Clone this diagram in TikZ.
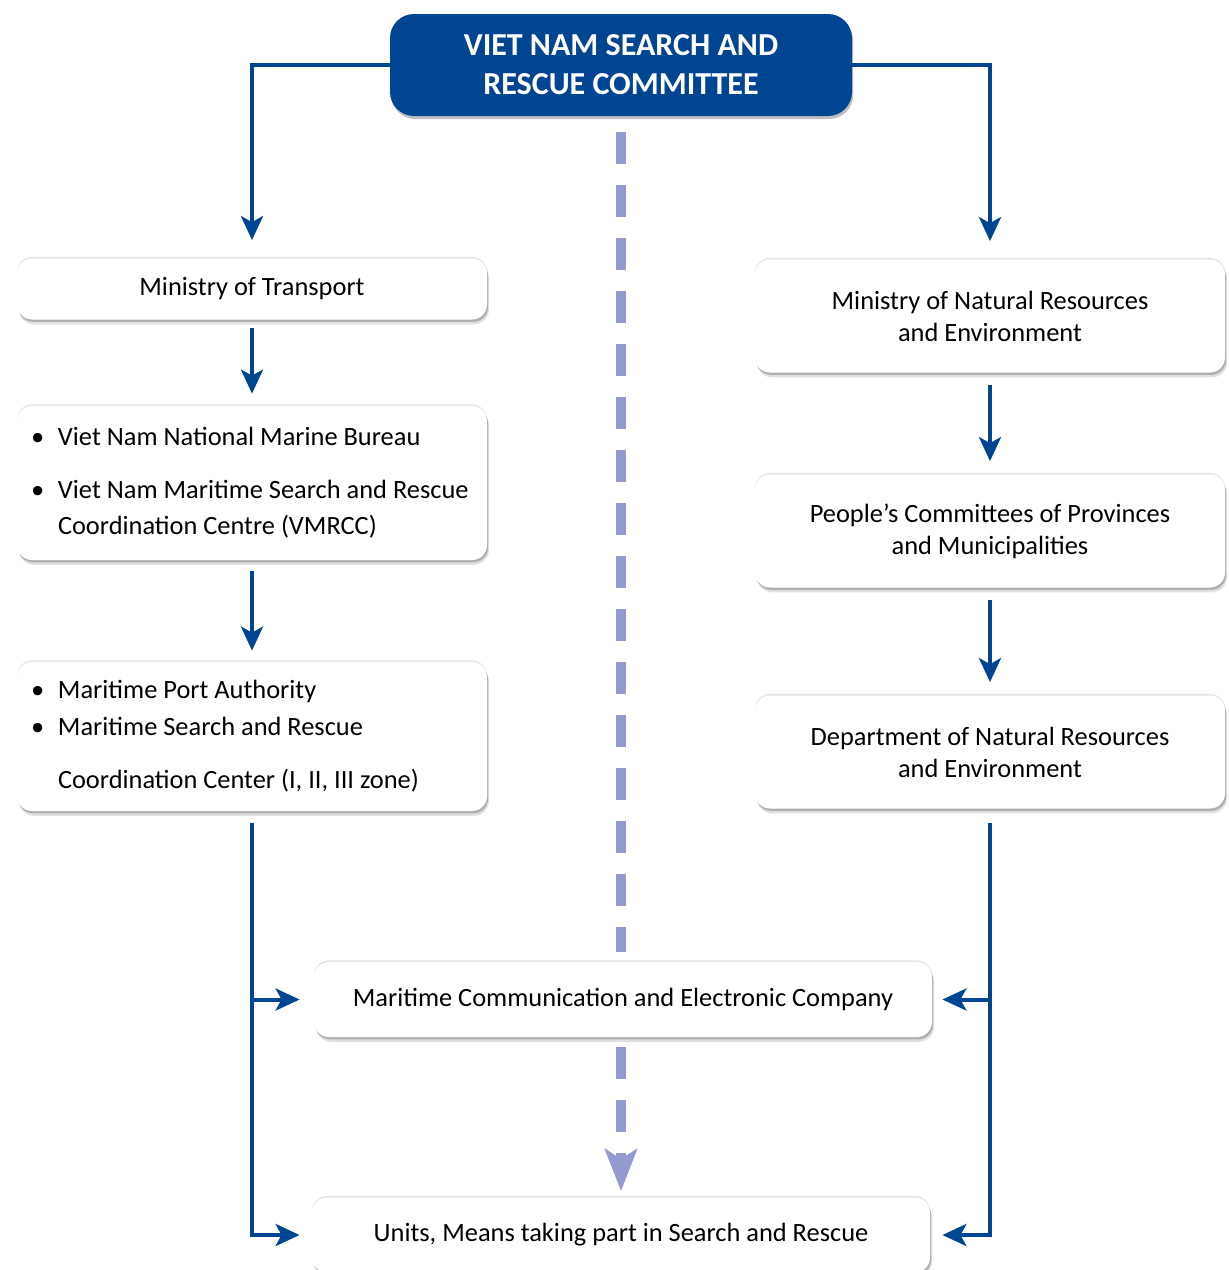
\documentclass[tikz,border=0pt]{standalone}
\usepackage{fontspec}
\setmainfont{Carlito}
\usepackage{xcolor}
\usetikzlibrary{arrows.meta,positioning,calc,shadows}
\definecolor{sarblue}{RGB}{0,69,145}
\definecolor{dashblue}{RGB}{146,154,206}
\newcommand{\itembul}{\makebox[12pt][l]{\hspace*{-1.5pt}\textbullet}}
\tikzset{
  shbox/.style   ={rounded corners=7.5pt,fill=white,align=flush center,inner sep=0pt,
                   font=\fontsize{13.2}{16}\selectfont,minimum width=235pt,
                   drop shadow={shadow xshift=0pt,shadow yshift=.8pt,opacity=.10,fill=black},
                   drop shadow={shadow xshift=.6pt,shadow yshift=-1.2pt,opacity=.22,fill=black},
                   drop shadow={shadow xshift=1pt,shadow yshift=-2.4pt,opacity=.12,fill=black}},
  listbox/.style ={shbox,align=flush left,inner xsep=8.5pt,text width=218pt,
                   font=\fontsize{13.2}{18}\selectfont},
  widebox/.style ={shbox,minimum width=309pt,minimum height=37.5pt},
  topbox/.style  ={rounded corners=12pt,fill=sarblue,text=white,align=flush center,
                   font=\bfseries\fontsize{16}{19.5}\selectfont,
                   minimum width=231pt,minimum height=51pt,inner sep=0pt,
                   drop shadow={shadow xshift=.6pt,shadow yshift=-1.5pt,opacity=.25,fill=black}},
  arr/.style     ={-{Stealth[length=12pt,width=11pt,inset=3pt]},draw=sarblue,line width=2pt},
  dashline/.style={draw=dashblue,line width=5pt,dash pattern=on 16pt off 10.5pt},
  dashtip/.style ={-{Stealth[length=21pt,width=16pt,inset=5pt]}},
}

\begin{document}
\begin{tikzpicture}[x=0.5pt,y=-0.5pt]
\useasboundingbox (0,0) rectangle (1228,1270);

% --- committee -------------------------------------------------------------
\node[topbox] (vsrc) at (621,65) {VIET NAM SEARCH AND\\RESCUE COMMITTEE};

% --- left column -----------------------------------------------------------
\node[shbox,minimum height=30.5pt] (mot) at (252,289) {Ministry of Transport};
\node[listbox,minimum height=77pt] (nmb) at (252,483)
  {\itembul Viet Nam National Marine Bureau\\[8.5pt]
   \itembul Viet Nam Maritime Search and Rescue\\
   \hspace*{12pt}Coordination Centre (VMRCC)};
\node[listbox,minimum height=74.5pt] (mpa) at (252,736.5)
  {\itembul Maritime Port Authority\\[.5pt]
   \itembul Maritime Search and Rescue\\[8.5pt]
   \hspace*{12pt}Coordination Center (I, II, III zone)};

% --- right column ----------------------------------------------------------
\node[shbox,minimum height=56.5pt] (monre) at (990,316)
  {Ministry of Natural Resources\\ and Environment};
\node[shbox,minimum height=56.5pt] (pc) at (990,531)
  {People’s Committees of Provinces\\ and Municipalities};
\node[shbox,minimum height=56.5pt] (dnre) at (990,752)
  {Department of Natural Resources\\ and Environment};

% --- bottom ----------------------------------------------------------------
\node[widebox] (mcec) at (623,999.5) {Maritime Communication and Electronic Company};
\node[widebox] (units) at (621,1235) {Units, Means taking part in Search and Rescue};

% --- connectors ------------------------------------------------------------
\draw[arr,shorten >=9pt] (vsrc.west) -| (mot.north);
\draw[arr,shorten >=9pt] (vsrc.east) -| (monre.north);
\draw[arr,shorten <=4pt,shorten >=6pt] (mot) -- (nmb);
\draw[arr,shorten <=5.5pt,shorten >=5.5pt] (nmb) -- (mpa);
\draw[arr,shorten <=6pt,shorten >=6.5pt] (monre) -- (pc);
\draw[arr,shorten <=6pt,shorten >=6.5pt] (pc) -- (dnre);

\draw[arr,shorten <=6pt,shorten >=6pt] (mpa.south) |- (units.west);
\draw[arr,shorten >=7pt] (mpa.south |- mcec.west) -- (mcec.west);
\draw[arr,shorten <=7pt,shorten >=6pt] (dnre.south) |- (units.east);
\draw[arr,shorten >=5pt] (dnre.south |- mcec.east) -- (mcec.east);

\draw[dashline,shorten <=8pt,shorten >=5pt] (vsrc.south) -- (vsrc.south |- mcec.north);
\draw[dashline,dashtip,shorten <=5pt,shorten >=3pt] (mcec.south -| units.north) -- (units.north);

\end{tikzpicture}
\end{document}
